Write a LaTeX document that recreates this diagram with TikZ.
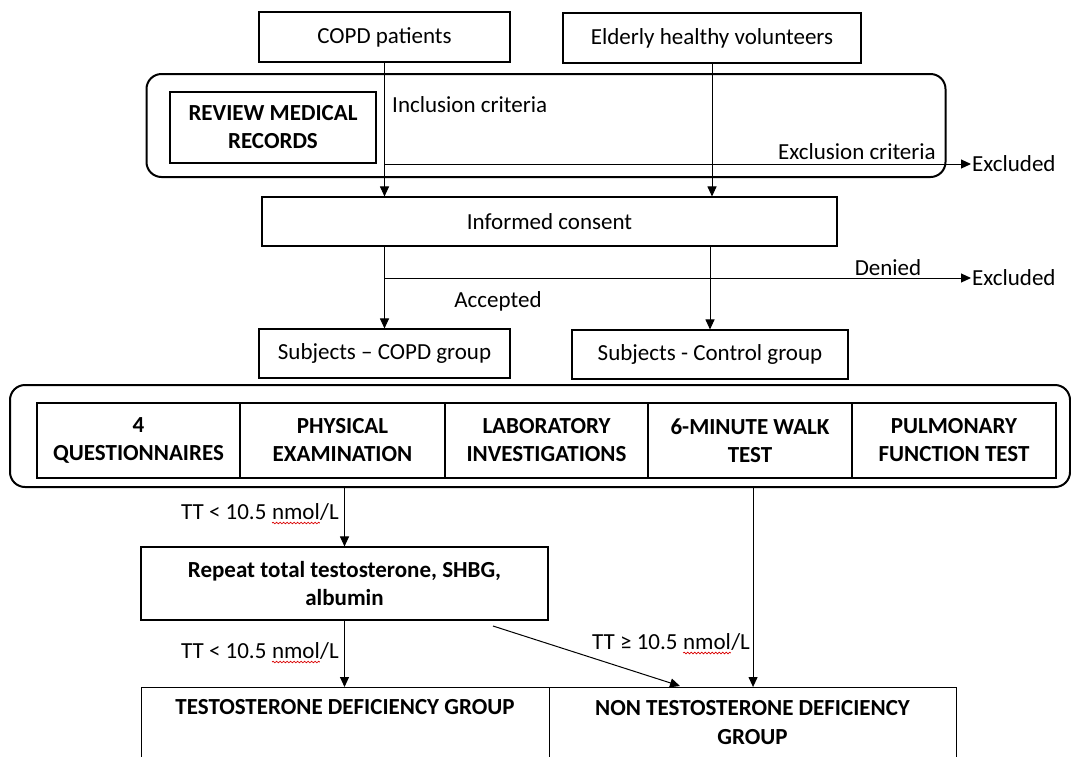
\documentclass[tikz,border=0pt]{standalone}
\usepackage{fontspec}
\setmainfont{Carlito}
\usetikzlibrary{arrows.meta,decorations.pathmorphing}
\newcommand\wavy[1]{\tikz[baseline=(wv.base)]{\node[inner sep=0pt,outer sep=0pt,anchor=base west,draw=none] (wv) at (0,0) {#1};\draw[red!85!black,line width=0.7pt,decorate,decoration={snake,amplitude=0.8pt,segment length=3.5pt}] ([yshift=-3.5pt]wv.base west) -- ([yshift=-3.5pt]wv.base east);}}
\begin{document}
\begin{tikzpicture}[x=1pt,y=-1pt,
  every node/.style={font=\fontsize{23}{28}\selectfont, text=black},
  box/.style={draw, line width=1.1pt, inner sep=0pt},
  bbox/.style={box, font=\fontsize{23}{28}\selectfont\bfseries, align=center},
  btext/.style={inner sep=0pt, font=\fontsize{23}{29}\selectfont\bfseries, align=center},
  round/.style={draw, line width=2pt, rounded corners=15pt},
  arr/.style={line width=1pt, -{Triangle[length=10pt,width=9pt]}},
  lab/.style={inner sep=0pt}]
\useasboundingbox (0,0) rectangle (1071,756);
% top sources
\node[box, minimum width=251pt, minimum height=50pt] (copd) at (384.5,37) {COPD patients};
\node[box, minimum width=298pt, minimum height=50pt] (eld) at (712,38) {Elderly healthy volunteers};
% review medical records
\node[round, minimum width=799pt, minimum height=103pt] (rev) at (546,125.5) {};
\node[bbox, minimum width=206pt, minimum height=71pt] (rmr) at (273,127.5) {REVIEW MEDICAL\\RECORDS};
\node[lab, anchor=west] (inc) at (392,105) {Inclusion criteria};
\node[lab, anchor=east] (excl) at (936,152) {Exclusion criteria};
\node[lab, anchor=west] (exd1) at (972,164) {Excluded};
% consent
\node[box, minimum width=575pt, minimum height=49pt] (cons) at (549.5,221.5) {Informed consent};
\node[lab] (den) at (888,268) {Denied};
\node[lab, anchor=west] (exd2) at (972,278) {Excluded};
\node[lab] (acc) at (498,301) {Accepted};
\node[box, minimum width=251pt, minimum height=49pt] (subc) at (384.5,353.5) {Subjects – COPD group};
\node[box, minimum width=276pt, minimum height=49pt] (subk) at (710,354.5) {Subjects - Control group};
% tests
\node[round, minimum width=1060pt, minimum height=102pt] (tests) at (540,436) {};
\node[bbox, minimum width=203pt, minimum height=75pt] (t1) at (138.5,440.5) {4\\QUESTIONNAIRES};
\node[bbox, minimum width=205pt, minimum height=75pt] (t2) at (342.5,440.5) {PHYSICAL\\EXAMINATION};
\node[bbox, minimum width=203pt, minimum height=75pt] (t3) at (546.5,440.5) {LABORATORY\\INVESTIGATIONS};
\node[bbox, minimum width=204pt, minimum height=75pt] (t4) at (750,440.5) {6-MINUTE WALK\\TEST};
\node[bbox, minimum width=204pt, minimum height=75pt] (t5) at (954,440.5) {PULMONARY\\FUNCTION TEST};
% repeat
\node[bbox, minimum width=407pt, minimum height=73pt] (rep) at (344.5,583.5) {Repeat total testosterone, SHBG,\\albumin};
% groups
\node[box, minimum width=408pt, minimum height=120pt, anchor=north west] (tdg) at (141,687) {};
\node[box, minimum width=407pt, minimum height=120pt, anchor=north west] (ntdg) at (549,687) {};
\node[btext] (tdgt) at (345,707) {TESTOSTERONE DEFICIENCY GROUP};
\node[btext] (ntdgt) at (752.5,722.5) {NON TESTOSTERONE DEFICIENCY\\GROUP};
% labels
\node[lab, anchor=base east] (tt1) at (339,519.5) {TT < 10.5 \wavy{nmol}/L};
\node[lab, anchor=base east] (tt2) at (339,658.5) {TT < 10.5 \wavy{nmol}/L};
\node[lab, anchor=base west] (tt3) at (592,649.5) {TT ≥ 10.5 \wavy{nmol}/L};
% connectors
\draw[arr] (copd.south) -- (copd.south |- cons.north);
\draw[arr] (eld.south) -- (eld.south |- cons.north);
\draw[arr, shorten >=1pt] (copd.south |- exd1.west) -- (exd1.west);
\draw[arr] (subc.north |- cons.south) -- (subc.north);
\draw[arr] (subk.north |- cons.south) -- (subk.north);
\draw[arr, shorten >=1pt] (subc.north |- exd2.west) -- (exd2.west);
\draw[arr] (rep.north |- tests.south) -- (rep.north);
\draw[arr] (rep.south) -- (rep.south |- tdg.north);
\draw[arr] (ntdg.north |- tests.south) -- (ntdg.north);
\coordinate (d1) at (493,626);
\coordinate (d2) at (680,686);
\draw[arr] (d1) -- (d2);
\end{tikzpicture}
\end{document}
